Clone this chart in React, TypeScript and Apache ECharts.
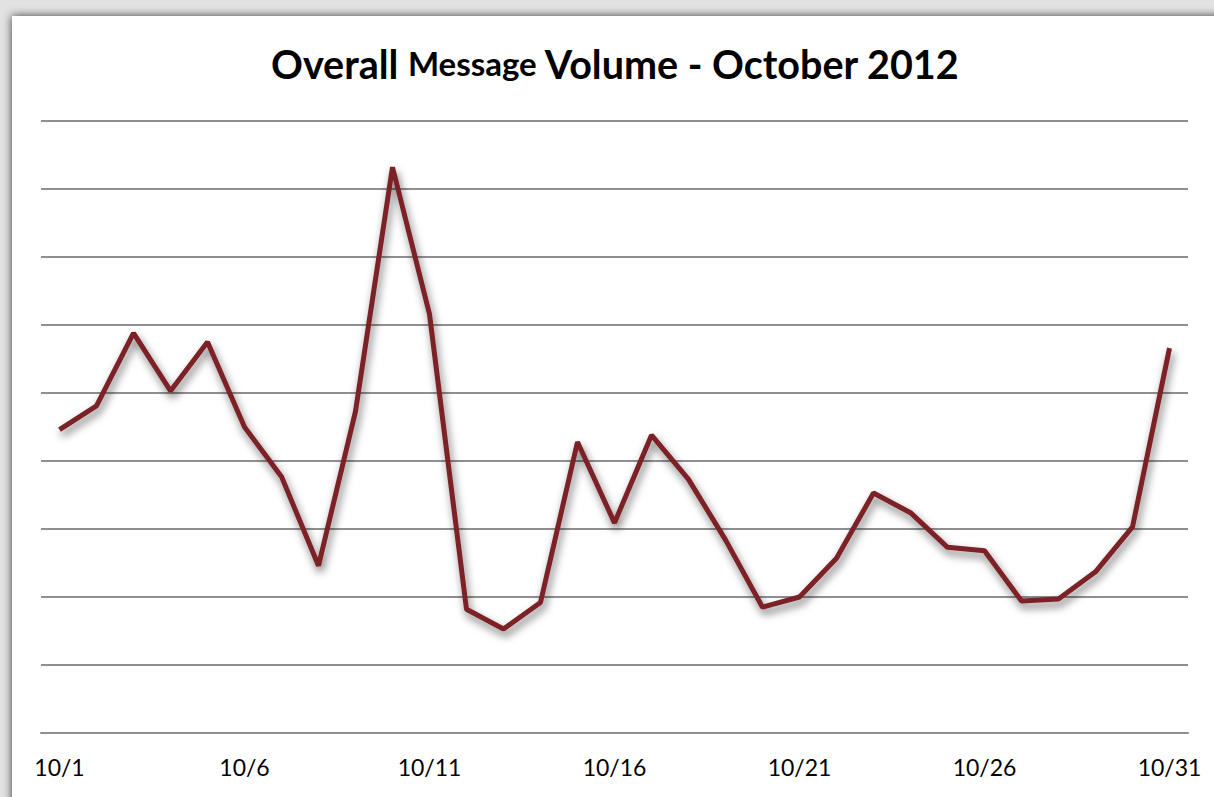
import React, { useEffect, useRef } from "react";
import * as echarts from "echarts";

// Daily message volume, October 2012 (relative units)
const days: string[] = [
  "10/1", "10/2", "10/3", "10/4", "10/5", "10/6", "10/7", "10/8", "10/9", "10/10",
  "10/11", "10/12", "10/13", "10/14", "10/15", "10/16", "10/17", "10/18", "10/19", "10/20",
  "10/21", "10/22", "10/23", "10/24", "10/25", "10/26", "10/27", "10/28", "10/29", "10/30",
  "10/31",
];
const volume: number[] = [
  44.6, 48.1, 58.8, 50.3, 57.5, 45.0, 37.7, 24.6, 47.3, 83.2,
  61.6, 18.2, 15.3, 19.2, 42.8, 30.9, 43.8, 37.3, 28.4, 18.5,
  20.0, 25.7, 35.3, 32.4, 27.3, 26.8, 19.4, 19.7, 23.7, 30.3,
  56.6,
];
const yMin = 0;
const yMax = 90;
const yStep = 10;

const FONT = "Lato, 'Open Sans', sans-serif";

export default function App() {
  const ref = useRef<HTMLDivElement>(null);

  useEffect(() => {
    if (!ref.current) return;
    const chart = echarts.init(ref.current, undefined, { renderer: "svg" });
    chart.setOption({
      animation: false,
      backgroundColor: "#e2e2e2",
      graphic: [
        {
          type: "rect",
          silent: true,
          z: -10,
          shape: { x: 12, y: 16, width: 1260, height: 860 },
          style: {
            fill: "#ffffff",
            shadowBlur: 10,
            shadowColor: "rgba(0,0,0,0.75)",
          },
        },
      ],
      title: {
        left: 266,
        top: 38,
        text: "{a|Overall }{b|Message}{a| Volume - October 2012}",
        textStyle: {
          rich: {
            a: { fontFamily: FONT, fontWeight: "bold", fontSize: 39.5, color: "#000" },
            b: { fontFamily: FONT, fontWeight: "bold", fontSize: 33, color: "#000" },
          },
        },
      },
      grid: { left: 41, right: 26, top: 121, bottom: 64 },
      xAxis: {
        type: "category",
        data: days,
        boundaryGap: true,
        axisTick: { show: false },
        axisLine: { lineStyle: { color: "#8f8f8f", width: 2 } },
        axisLabel: {
          interval: 4,
          margin: 22,
          fontFamily: FONT,
          fontSize: 23,
          color: "#000",
        },
      },
      yAxis: {
        type: "value",
        min: yMin,
        max: yMax,
        interval: yStep,
        axisLabel: { show: false },
        axisLine: { show: false },
        axisTick: { show: false },
        splitLine: { lineStyle: { color: "#8f8f8f", width: 2 } },
      },
      series: [
        {
          type: "line",
          data: volume,
          showSymbol: false,
          lineStyle: {
            color: "#7b2128",
            width: 5,
            shadowColor: "rgba(0,0,0,0.55)",
            shadowBlur: 8,
            shadowOffsetX: 2,
            shadowOffsetY: 5,
          },
        },
      ],
    });
    return () => chart.dispose();
  }, []);

  return (
    <div
      ref={ref}
      style={{ position: "fixed", left: 0, top: 0, width: 1214, height: 797 }}
    />
  );
}
